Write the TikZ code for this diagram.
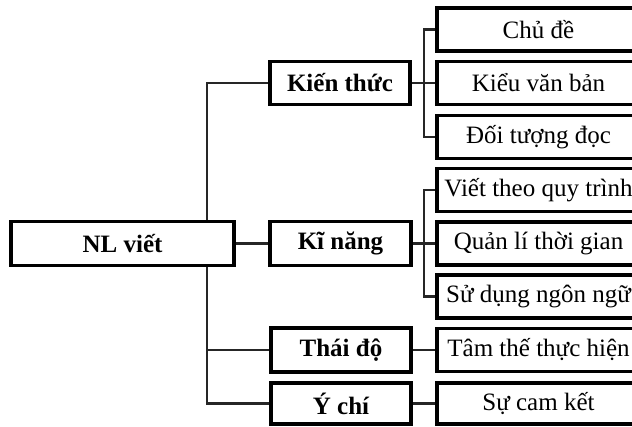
\documentclass[tikz,border=0pt]{standalone}
\usepackage{fontspec}
\setmainfont{Liberation Serif}
\usetikzlibrary{backgrounds}
\tikzset{
  box/.style={draw=black, line width=3.2pt, fill=white, inner sep=0pt, align=center,
    font=\fontsize{25}{30}\selectfont},
  catbox/.style={box, font=\fontsize{25}{30}\selectfont\bfseries},
  leaf/.style={box, minimum width=203pt, minimum height=43pt},
  link/.style={draw=black!85, line width=2.1pt}
}
\begin{document}
\begin{tikzpicture}[x=1pt,y=-1pt]
\useasboundingbox (0,0) rectangle (632,426);
\clip (0,0) rectangle (632,426);
% main nodes
\node[catbox, minimum width=223pt, minimum height=44pt] (nl) at (122.5,243.5) {NL viết};
\node[catbox, minimum width=140pt, minimum height=43pt] (kt) at (340,83) {Kiến thức};
\node[catbox, minimum width=141pt, minimum height=44pt] (kn) at (340.5,243.5) {Kĩ năng};
\node[catbox, minimum width=140pt, minimum height=44pt] (td) at (341,350) {Thái độ};
\node[catbox, minimum width=140pt, minimum height=41pt] (yc) at (341,403.5) {Ý chí};
% leaf nodes
\node[leaf] (r1) at (538.5,29.5) {Chủ đề};
\node[leaf] (r2) at (538.5,83) {Kiểu văn bản};
\node[leaf] (r3) at (538.5,137) {Đối tượng đọc};
\node[leaf] (r4) at (538.5,190) {Viết theo quy trình};
\node[leaf] (r5) at (538.5,243.5) {Quản lí thời gian};
\node[leaf] (r6) at (538.5,296.5) {Sử dụng ngôn ngữ};
\node[leaf] (r7) at (538.5,350) {Tâm thế thực hiện};
\node[leaf, minimum height=41pt] (r8) at (538.5,403.5) {Sự cam kết};
% connectors
\coordinate (t1) at (207,83);
\coordinate (t2) at (207,403.5);
\coordinate (b1) at (424,29.5);
\coordinate (b2) at (424,190);
\begin{scope}[on background layer]
\draw[link] (kt.west) -- (t1) -- (t2) -- (yc.west);
\draw[link] (td.west) -- (td.west -| t1);
\draw[link] (nl.east) -- (kn.west);
\draw[link] (r1.west) -- (b1) -- (r3.west -| b1) -- (r3.west);
\draw[link] (kt.east) -- (r2.west);
\draw[link] (r4.west) -- (b2) -- (r6.west -| b2) -- (r6.west);
\draw[link] (kn.east) -- (r5.west);
\draw[link] (td.east) -- (r7.west);
\draw[link] (yc.east) -- (r8.west);
\end{scope}
\end{tikzpicture}
\end{document}
